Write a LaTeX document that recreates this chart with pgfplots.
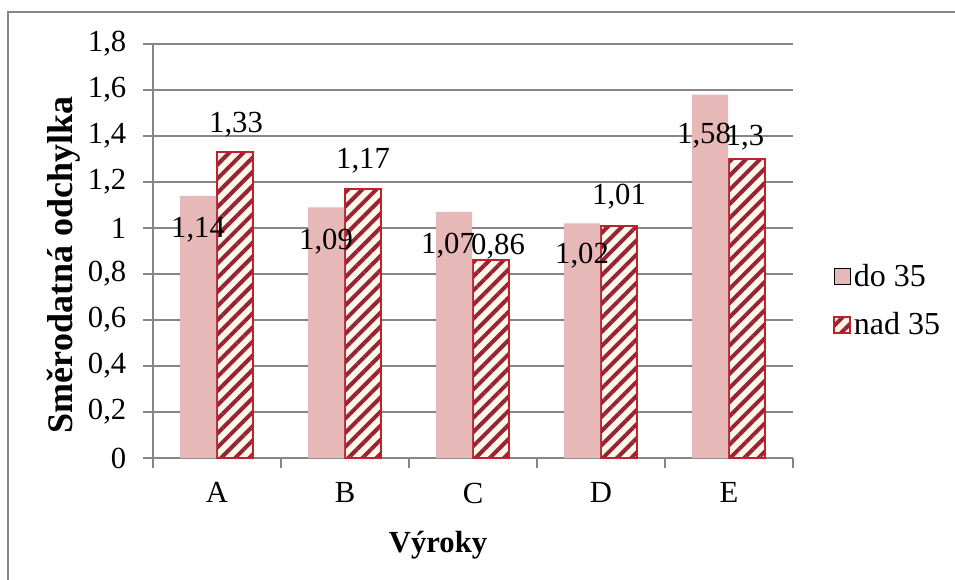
\documentclass[border=0pt]{standalone}
\usepackage{fontspec}
\setmainfont{Liberation Serif}
\usepackage{pgfplots}
\pgfplotsset{compat=1.18}
\usepackage{pgfplotstable}
\usetikzlibrary{patterns.meta}
\definecolor{pinkbar}{RGB}{230,185,184}
\definecolor{hatchred}{RGB}{190,35,45}
\definecolor{stripe}{RGB}{150,35,55}
\definecolor{cream}{RGB}{255,248,232}
\definecolor{gridgray}{RGB}{134,134,134}

\pgfplotstableread{
x y dx dy
0 1.14 0 -31.1
1 1.09 0 -31.9
2 1.07 -4.5 -31.1
3 1.02 0 -30.4
4 1.58 -4.5 -36.4
}\young
\pgfplotstableread{
x y dx dy
0 1.33 0.75 14.6
1 1.17 0 15.4
2 0.86 5.25 4.1
3 1.01 0 16.1
4 1.30 -1.5 10.1
}\old

\begin{document}
\begin{tikzpicture}
\begin{scope}[x=0.75pt,y=-0.75pt]
\useasboundingbox (0,0) rectangle (955,580);
\draw[gridgray, line width=1pt] (8,581) -- (8,12) -- (956,12);
\end{scope}
\begin{axis}[
  at={(114.75pt,-343.5pt)}, anchor=south west,
  scale only axis, width=480pt, height=310.5pt,
  xmin=-0.5, xmax=4.5, ymin=0, ymax=1.8,
  axis x line*=bottom, axis y line*=left,
  axis line style={gridgray, line width=1pt, -},
  ytick={0,0.2,0.4,0.6,0.8,1,1.2,1.4,1.6,1.8},
  ymajorgrids, major grid style={gridgray, line width=1pt},
  xtick={-0.5,0.5,1.5,2.5,3.5,4.5}, xticklabels={},
  extra x ticks={0,1,2,3,4}, extra x tick labels={A,B,C,D,E},
  extra x tick style={major tick length=0pt, xticklabel style={yshift=-15pt}},
  yticklabel style={xshift=-9pt},
  tick align=outside, major tick length=7.5pt,
  tick style={gridgray, line width=1pt},
  /pgf/number format/.cd, fixed, precision=2, use comma, assume math mode=true,
  /pgfplots/.cd,
  ticklabel style={font=\fontsize{23}{27}\selectfont},
  ybar, bar width=27pt,
  reverse legend,
  legend style={at={(1.0625,0.38)}, anchor=west, draw=none, fill=none,
    font=\fontsize{24}{28}\selectfont, row sep=14pt, inner sep=0pt,
    cells={anchor=west}},
  legend image code/.code={\draw[#1] (0pt,-6pt) rectangle (12pt,6pt);},
  nodes near coords,
  visualization depends on={\thisrow{dx} \as \dx},
  visualization depends on={\thisrow{dy} \as \dy},
  every node near coord/.append style={anchor=base, xshift=\dx pt, yshift=\dy pt,
    font=\fontsize{23}{27}\selectfont, text=black, inner sep=0pt},
]
\addplot[bar shift=13.5pt, fill=cream, draw=hatchred, line width=1.5pt,
  postaction={pattern={Lines[angle=45,distance=7.5pt,line width=3pt]}, pattern color=stripe}]
  table[x=x,y=y] {\old};
\addlegendentry{nad 35}
\addplot[bar shift=-14.25pt, fill=pinkbar, draw=none] table[x=x,y=y] {\young};
\addlegendentry{do 35}
\end{axis}
\begin{scope}[x=0.75pt,y=-0.75pt]
\node[font=\bfseries\fontsize{23}{27}\selectfont, anchor=base] at (438,552) {Výroky};
\node[font=\bfseries\fontsize{27}{31}\selectfont, rotate=90, anchor=base] at (72,265) {Směrodatná odchylka};
\end{scope}
\end{tikzpicture}
\end{document}
